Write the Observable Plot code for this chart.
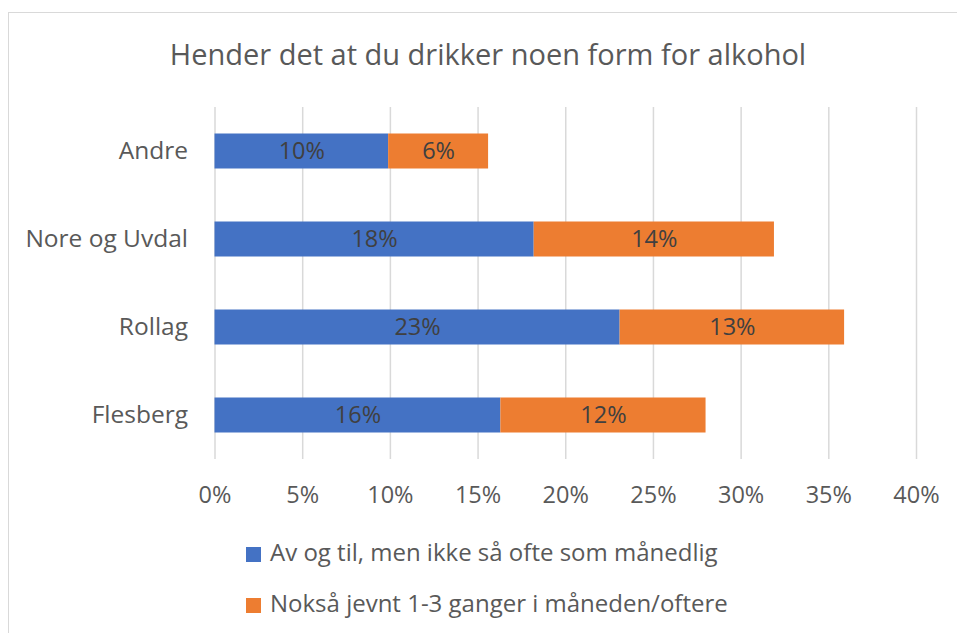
<!DOCTYPE html>
<html>
<head>
<meta charset="utf-8">
<script src="https://cdn.jsdelivr.net/npm/d3@7"></script>
<script src="https://cdn.jsdelivr.net/npm/@observablehq/plot@0.6"></script>
<style>
  html, body { margin: 0; padding: 0; background: #fff; }
  #wrap { position: relative; width: 957px; height: 633px; overflow: hidden; font-family: "Open Sans", sans-serif; }
  #frame { position: absolute; left: 8px; top: 12px; width: 980px; height: 660px; border: 1.5px solid #d9d9d9; box-sizing: border-box; }
  #title { position: absolute; left: 0; width: 976px; top: 34px; text-align: center; font-size: 29px; color: #595959; line-height: 40px; }
  #chart { position: absolute; left: 0; top: 90px; }
  .leg { position: absolute; left: 246px; font-size: 24px; color: #595959; line-height: 30px; white-space: nowrap; }
  .sw { display: inline-block; width: 15px; height: 15px; margin-right: 9px; vertical-align: -1px; }
</style>
</head>
<body>
<div id="wrap">
  <div id="frame"></div>
  <div id="title"></div>
  <div id="chart"></div>
  <div id="legend"></div>
</div>
<script>
const title = "Hender det at du drikker noen form for alkohol";
const categories = ["Andre", "Nore og Uvdal", "Rollag", "Flesberg"];
const seriesNames = ["Av og til, men ikke så ofte som månedlig", "Nokså jevnt 1-3 ganger i måneden/oftere"];
const seriesColors = ["#4472C4", "#ED7D31"];
const occasional = [9.9, 18.2, 23.1, 16.3];
const regular = [5.7, 13.7, 12.8, 11.7];
const xTicks = [0, 5, 10, 15, 20, 25, 30, 35, 40];

const rows = [];
categories.forEach((c, i) => rows.push({category: c, series: seriesNames[0], value: occasional[i]}));
categories.forEach((c, i) => rows.push({category: c, series: seriesNames[1], value: regular[i]}));

document.getElementById("title").textContent = title;

const chart = Plot.plot({
  width: 957,
  height: 430,
  marginTop: 17,
  marginBottom: 61,
  marginLeft: 214.5,
  marginRight: 41,
  style: {fontFamily: "'Open Sans', sans-serif", fontSize: "23.5px", color: "#595959", background: "transparent", overflow: "visible"},
  x: {domain: [0, 40], ticks: xTicks, tickFormat: d => d + "%", label: null},
  y: {domain: categories, padding: 0, label: null},
  color: {domain: seriesNames, range: seriesColors},
  marks: [
    Plot.gridX(xTicks, {stroke: "#d9d9d9", strokeWidth: 1.5, strokeOpacity: 1}),
    Plot.barX(rows, Plot.stackX({x: "value", y: "category", fill: "series", insetTop: 26.5, insetBottom: 26.5})),
    Plot.text(rows, Plot.stackX({x: "value", y: "category", text: d => Math.round(d.value) + "%", fill: "#404040", fontSize: 23.5})),
    Plot.axisX(xTicks, {tickSize: 0, tickPadding: 27, tickFormat: d => d + "%", fontSize: 23.5, fill: "#595959"}),
    Plot.axisY({tickSize: 0, tickPadding: 27, fontSize: 24.5, fill: "#595959"})
  ]
});
document.getElementById("chart").appendChild(chart);

const legend = document.getElementById("legend");
const legendTops = [537, 588];
seriesNames.forEach((name, i) => {
  const div = document.createElement("div");
  div.className = "leg";
  div.style.top = legendTops[i] + "px";
  const sw = document.createElement("span");
  sw.className = "sw";
  sw.style.background = seriesColors[i];
  div.appendChild(sw);
  div.appendChild(document.createTextNode(name));
  legend.appendChild(div);
});
</script>
</body>
</html>
